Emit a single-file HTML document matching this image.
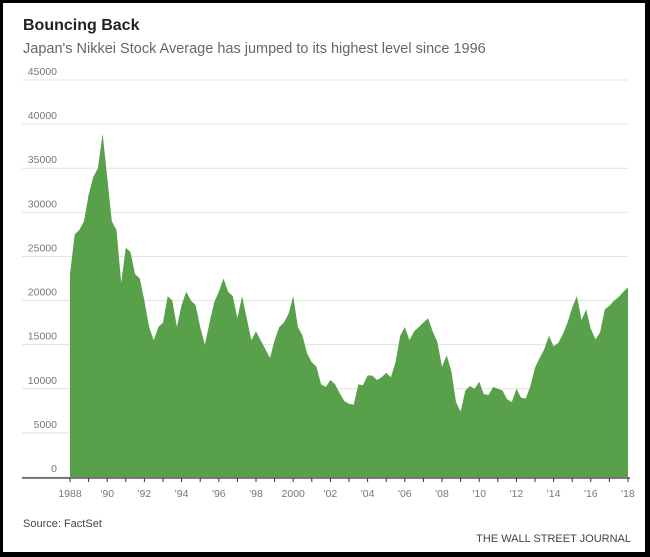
<!DOCTYPE html>
<html><head><meta charset="utf-8"><style>
html,body{margin:0;padding:0;background:#000;}
#wrap{position:absolute;left:3px;top:3px;width:642px;height:549px;background:#fff;}
svg{position:absolute;left:0;top:0;}
.t{font-family:"Liberation Sans",sans-serif;}
</style></head><body>
<div id="wrap"></div>
<svg id="c" width="650" height="557">
<text class="t" x="23" y="30" font-size="16" font-weight="bold" fill="#222">Bouncing Back</text>
<text class="t" x="23" y="53" font-size="14.5" fill="#666">Japan's Nikkei Stock Average has jumped to its highest level since 1996</text>
<g id="grid"></g><g id="area"></g><g id="xaxis"></g>
<text class="t" x="23" y="527" font-size="11" fill="#444">Source: FactSet</text>
<text class="t" x="631" y="542" font-size="11" fill="#444" text-anchor="end">THE WALL STREET JOURNAL</text>
</svg>
<script>
const yTicks=[0,5000,10000,15000,20000,25000,30000,35000,40000,45000];
const xYears=[1988,1990,1992,1994,1996,1998,2000,2002,2004,2006,2008,2010,2012,2014,2016,2018];
const xLabels=["1988","'90","'92","'94","'96","'98","2000","'02","'04","'06","'08","'10","'12","'14","'16","'18"];
const startYear=1988;
const quarterly=[23000,27500,28000,29000,32000,34000,35000,38900,34000,29000,28000,22000,26000,25500,23000,22500,20000,17000,15500,17000,17500,20500,20000,17000,19500,21000,20000,19500,17000,15000,17500,19800,21000,22500,21000,20500,18000,20500,18000,15500,16500,15500,14500,13500,15500,17000,17500,18500,20500,17000,16000,14000,13000,12500,10500,10200,11000,10500,9500,8600,8300,8200,10500,10400,11500,11500,11000,11300,11800,11300,13000,16000,17000,15500,16500,17000,17500,18000,16500,15300,12500,13800,12000,8500,7400,9800,10300,10000,10800,9400,9300,10200,10000,9800,8800,8500,10000,9000,8900,10300,12400,13500,14500,16000,14800,15200,16200,17500,19200,20500,17800,19000,16800,15600,16400,19000,19400,20000,20400,21000,21500];
const NS="http://www.w3.org/2000/svg";
const y=v=>477-v/45000*397;
const x=yr=>70+(yr-1988)*18.6;
const g=document.getElementById('grid');
yTicks.forEach(v=>{
 const l=document.createElementNS(NS,'line');
 l.setAttribute('x1',22);l.setAttribute('x2',628);l.setAttribute('y1',y(v));l.setAttribute('y2',y(v));
 l.setAttribute('stroke','#e3e3e3');l.setAttribute('stroke-width','1');
 
 
 g.appendChild(l);
 const t=document.createElementNS(NS,'text');
 t.setAttribute('x',57);t.setAttribute('y',y(v)-5);t.setAttribute('text-anchor','end');
 t.setAttribute('class','t');t.setAttribute('font-size','10.5');t.setAttribute('fill','#777');
 t.textContent=v;
 
 
 g.appendChild(t);
});
let d='M'+x(startYear).toFixed(1)+','+y(0);
quarterly.forEach((v,i)=>{d+=' L'+x(startYear+i*0.25).toFixed(1)+','+y(v).toFixed(1);});
d+=' L'+x(startYear+(quarterly.length-1)*0.25).toFixed(1)+','+y(0)+' Z';
const p=document.createElementNS(NS,'path');
p.setAttribute('d',d);p.setAttribute('fill','#58a04a');


document.getElementById('area').appendChild(p);
const xa=document.getElementById('xaxis');
const base=document.createElementNS(NS,'line');
base.setAttribute('x1',22);base.setAttribute('x2',630);base.setAttribute('y1',478);base.setAttribute('y2',478);
base.setAttribute('stroke','#333');base.setAttribute('stroke-width','1.2');


xa.appendChild(base);
for(let yr=1988;yr<=2018;yr++){
 const tk=document.createElementNS(NS,'line');
 tk.setAttribute('x1',x(yr));tk.setAttribute('x2',x(yr));tk.setAttribute('y1',478);tk.setAttribute('y2',482);
 tk.setAttribute('stroke','#333');
 
 
 xa.appendChild(tk);
}
xYears.forEach((yr,i)=>{
 const t=document.createElementNS(NS,'text');
 t.setAttribute('x',x(yr));t.setAttribute('y',497);t.setAttribute('text-anchor','middle');
 t.setAttribute('class','t');t.setAttribute('font-size','10.5');t.setAttribute('fill','#777');
 t.textContent=xLabels[i];
 
 
 xa.appendChild(t);
});
</script>
</body></html>
